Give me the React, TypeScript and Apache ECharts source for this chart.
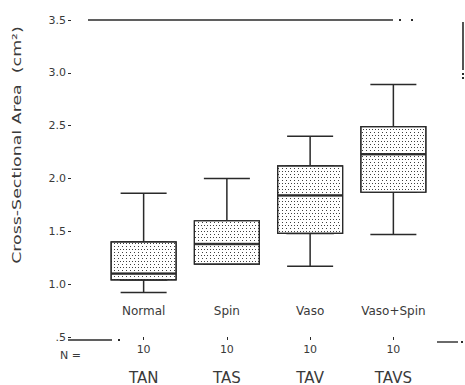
import React, { useEffect, useRef } from "react";
import * as echarts from "echarts";

const categories = ["Normal", "Spin", "Vaso", "Vaso+Spin"];
const groupCodes = ["TAN", "TAS", "TAV", "TAVS"];
const nCounts = ["10", "10", "10", "10"];
// [min, Q1, median, Q3, max]
const boxData = [
  [0.92, 1.04, 1.1, 1.4, 1.86],
  [1.19, 1.19, 1.38, 1.6, 2.0],
  [1.17, 1.48, 1.84, 2.12, 2.4],
  [1.47, 1.87, 2.23, 2.49, 2.89],
];
const yTicks = { min: 0.5, max: 3.5, interval: 0.5 };
const yTitle = "Cross-Sectional Area  (cm²)";

const FONT = "DejaVu Sans";
const INK = "#2a2a2a";
const TXT = "#3a3a3a";

export default function App() {
  const ref = useRef<HTMLDivElement>(null);
  useEffect(() => {
    if (!ref.current) return;
    const chart = echarts.init(ref.current, undefined, { renderer: "svg" });
    const boxOnly = boxData.map((d) => [d[1], d[1], d[2], d[3], d[3]]);
    const medians = boxData.map((d) => d[2]);
    const dot = (x: number, y: number) => ({
      type: "rect",
      shape: { x: x - 1, y: y - 1, width: 2, height: 2 },
      style: { fill: INK },
      silent: true,
    });
    chart.setOption({
      animation: false,
      grid: { left: 102, right: 30, top: 20, bottom: 45 },
      xAxis: [
        {
          type: "category",
          data: categories,
          position: "bottom",
          offset: -35,
          axisLine: { show: false },
          axisTick: { show: false },
          splitLine: { show: false },
          axisLabel: { interval: 0, margin: 3, fontFamily: FONT, fontSize: 12, color: TXT },
        },
        {
          type: "category",
          data: groupCodes,
          position: "bottom",
          offset: 0,
          axisLine: { show: false },
          axisTick: { show: true, alignWithLabel: true, interval: 0, length: 3, lineStyle: { color: INK } },
          splitLine: { show: false },
          axisLabel: {
            interval: 0,
            margin: 7,
            fontFamily: FONT,
            fontSize: 11,
            color: TXT,
            formatter: (_v: string, i: number) => nCounts[i],
          },
        },
        {
          type: "category",
          data: groupCodes,
          position: "bottom",
          offset: 26,
          axisLine: { show: false },
          axisTick: { show: false },
          splitLine: { show: false },
          axisLabel: { interval: 0, margin: 7, fontFamily: FONT, fontSize: 15, color: TXT },
        },
      ],
      yAxis: {
        type: "value",
        min: yTicks.min,
        max: yTicks.max,
        interval: yTicks.interval,
        offset: 31,
        axisLine: { show: false },
        axisTick: { show: true, length: 3, lineStyle: { color: INK } },
        splitLine: { show: false },
        axisLabel: {
          margin: 5,
          fontFamily: FONT,
          fontSize: 11,
          color: TXT,
          formatter: (v: number) => (v === 0.5 ? ".5" : v.toFixed(1)),
        },
      },
      series: [
        {
          type: "boxplot",
          xAxisIndex: 1,
          data: boxData,
          boxWidth: [46, 46],
          itemStyle: { color: "#fff", borderColor: INK, borderWidth: 1.5 },
          z: 1,
        },
        {
          type: "boxplot",
          xAxisIndex: 0,
          data: boxOnly,
          boxWidth: [65, 65],
          itemStyle: {
            color: "#fff",
            borderColor: INK,
            borderWidth: 1.2,
            decal: {
              symbol: "rect",
              symbolSize: 1,
              color: "rgba(30,30,30,0.85)",
              dashArrayX: [
                [1, 1.5],
                [0, 1.2, 1, 0.3],
              ],
              dashArrayY: [1, 1.2],
            },
          },
          z: 2,
        },
        {
          type: "scatter",
          xAxisIndex: 0,
          data: medians,
          symbol: "rect",
          symbolSize: [65, 2.5],
          itemStyle: { color: INK },
          z: 3,
        },
      ],
      graphic: [
        {
          type: "text",
          x: 17,
          y: 145,
          rotation: Math.PI / 2,
          scaleX: 1.45,
          style: {
            text: yTitle,
            fontFamily: FONT,
            fontSize: 12,
            fill: TXT,
            textAlign: "center",
            textVerticalAlign: "middle",
          },
        },
        {
          type: "text",
          x: 60,
          y: 355,
          style: {
            text: "N =",
            fontFamily: FONT,
            fontSize: 11,
            fill: TXT,
            textAlign: "left",
            textVerticalAlign: "middle",
          },
        },
        { type: "line", shape: { x1: 88, y1: 20, x2: 393, y2: 20 }, style: { stroke: INK, lineWidth: 1.6 } },
        dot(400, 20),
        dot(412, 20),
        { type: "line", shape: { x1: 68, y1: 340, x2: 112, y2: 340 }, style: { stroke: INK, lineWidth: 1.6 } },
        dot(119, 340),
        { type: "line", shape: { x1: 437, y1: 342, x2: 458, y2: 342 }, style: { stroke: INK, lineWidth: 1.4 } },
        dot(462, 342),
        { type: "line", shape: { x1: 463, y1: 22, x2: 463, y2: 70 }, style: { stroke: INK, lineWidth: 1.6 } },
        dot(463, 74),
        dot(463, 78),
      ],
    });
    return () => chart.dispose();
  }, []);
  return (
    <div
      ref={ref}
      style={{ position: "fixed", left: 0, top: 0, width: 465, height: 385, background: "#fff" }}
    />
  );
}
